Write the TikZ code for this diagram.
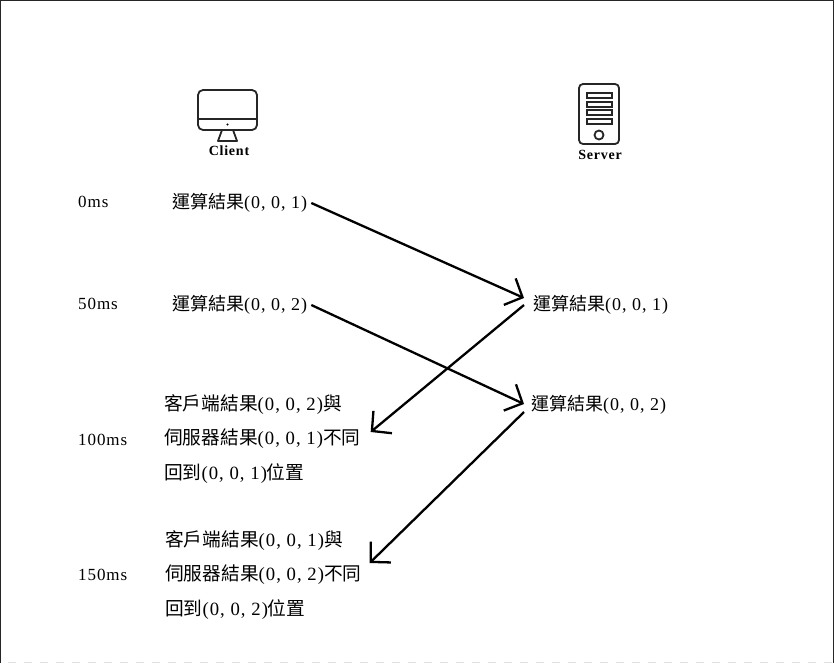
\documentclass[tikz,border=0pt]{standalone}
\usepackage{fontspec}
\setmainfont[LetterSpace=5.5]{Liberation Serif}
\newfontfamily\cjk{Noto Sans CJK TC}
\usetikzlibrary{arrows.meta}
\newcommand{\zh}[1]{{\cjk #1}}
\begin{document}
\begin{tikzpicture}[x=1pt,y=-1pt,
    label/.style={inner sep=0pt,anchor=west,font=\fontsize{18}{34.5}\selectfont,align=left},
    blocklabel/.style={label,font=\fontsize{18.7}{34.5}\selectfont},
    timelabel/.style={inner sep=0pt,anchor=west,font=\fontsize{17}{18}\selectfont},
    iconlabel/.style={inner sep=0pt,font=\fontsize{14}{15}\selectfont\bfseries},
    icon/.style={line width=1.8pt,draw=black!85},
    msg/.style={line width=2.3pt,-{Straight Barb[length=14pt,width=29pt,line width=2.3pt]}}]
    \useasboundingbox (0,0) rectangle (834,663);
    % frame
    \draw[line width=1.5pt,black!85] (0.5,663) -- (0.5,0.5) -- (833.5,0.5) -- (833.5,663);
    \draw[line width=1pt,black!12,dash pattern=on 8pt off 8pt] (8,662.5) -- (834,662.5);

    % Client
    \begin{scope}[shift={(0,0)}]
        \draw[icon,rounded corners=5pt] (198,90) rectangle (257,130);
        \draw[icon] (198,119) -- (257,119);
        \fill (227.5,124.5) circle (1.2pt);
        \draw[icon,line join=round] (222,130) -- (218,141) -- (237,141) -- (233,130);
        \node[iconlabel] (client) at (229,151) {Client};
    \end{scope}

    % Server
    \begin{scope}[shift={(0,0)}]
        \draw[icon,rounded corners=4pt] (579,144) -- (579,84) -- (619,84) -- (619,144) -- cycle;
        \foreach \y in {93,102,110,119}{
            \draw[line width=1.5pt,draw=black!85] (587,\y) rectangle (612,\y+5);
        }
        \draw[icon] (599,135) circle (4.5pt);
        \node[iconlabel] (server) at (600,155) {Server};
    \end{scope}

    % times
    \node[timelabel] (t0) at (78,202) {0ms};
    \node[timelabel] (t50) at (78,304) {50ms};
    \node[timelabel] (t100) at (78,440) {100ms};
    \node[timelabel] (t150) at (78,575) {150ms};

    % results
    \node[label] (c1) at (172,203) {\zh{運算結果}(0, 0, 1)};
    \node[label] (c2) at (172,305) {\zh{運算結果}(0, 0, 2)};
    \node[label] (s1) at (533,305) {\zh{運算結果}(0, 0, 1)};
    \node[label] (s2) at (531,405) {\zh{運算結果}(0, 0, 2)};
    \node[blocklabel] (c3) at (164,439) {\zh{客戶端結果}(0, 0, 2)\zh{與}\\\zh{伺服器結果}(0, 0, 1)\zh{不同}\\\zh{回到}(0, 0, 1)\zh{位置}};
    \node[blocklabel] (c4) at (165,575) {\zh{客戶端結果}(0, 0, 1)\zh{與}\\\zh{伺服器結果}(0, 0, 2)\zh{不同}\\\zh{回到}(0, 0, 2)\zh{位置}};

    % messages
    \draw[msg] ([xshift=4pt]c1.east) -- ([xshift=-9pt,yshift=7pt]s1.west);
    \draw[msg] ([xshift=4pt]c2.east) -- ([xshift=-7pt,yshift=1pt]s2.west);
    \draw[msg] ([xshift=-9pt]s1.west) -- ([xshift=10pt,yshift=7pt]c3.east);
    \draw[msg] ([xshift=-7pt,yshift=-7pt]s2.west) -- ([xshift=8pt,yshift=12pt]c4.east);
\end{tikzpicture}
\end{document}
